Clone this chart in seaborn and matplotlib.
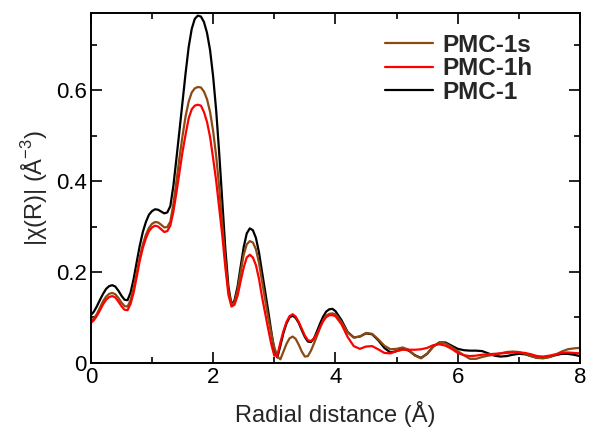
import numpy as np
import pandas as pd
import matplotlib
matplotlib.use("Agg")
import matplotlib.pyplot as plt
import seaborn as sns
from matplotlib.ticker import MultipleLocator

# ----- Data (0.05 A steps up to 4 A, 0.1 A after) -----
r = np.round(np.concatenate([np.arange(0, 4, 0.05), np.arange(4, 8.01, 0.1)]), 2)

pmc1 = [0.105, 0.113, 0.125, 0.139, 0.152, 0.163, 0.169, 0.171, 0.168, 0.159,
        0.148, 0.139, 0.138, 0.155, 0.185, 0.222, 0.258, 0.288, 0.310, 0.326,
        0.334, 0.338, 0.337, 0.333, 0.329, 0.331, 0.345, 0.390, 0.450, 0.512,
        0.575, 0.638, 0.695, 0.735, 0.757, 0.764, 0.762, 0.750, 0.726, 0.688,
        0.630, 0.555, 0.460, 0.355, 0.250, 0.168, 0.128, 0.138, 0.168, 0.212,
        0.255, 0.285, 0.296, 0.292, 0.275, 0.243, 0.200, 0.158, 0.115, 0.070,
        0.028, 0.012, 0.038, 0.066, 0.087, 0.100, 0.104, 0.099, 0.088, 0.072,
        0.057, 0.047, 0.046, 0.054, 0.070, 0.087, 0.102, 0.113, 0.118, 0.119,
        0.114, 0.094, 0.068, 0.056, 0.058, 0.065, 0.063, 0.050, 0.033, 0.023,
        0.026, 0.031, 0.027, 0.017, 0.011, 0.020, 0.036, 0.045, 0.045, 0.038,
        0.031, 0.028, 0.027, 0.027, 0.026, 0.021, 0.016, 0.014, 0.015, 0.018,
        0.020, 0.019, 0.015, 0.011, 0.011, 0.013, 0.017, 0.020, 0.020, 0.018,
        0.015]

pmc1s = [0.091, 0.098, 0.108, 0.122, 0.136, 0.146, 0.152, 0.154, 0.151, 0.143,
         0.133, 0.125, 0.124, 0.138, 0.165, 0.198, 0.233, 0.261, 0.282, 0.297,
         0.306, 0.310, 0.309, 0.304, 0.298, 0.299, 0.311, 0.350, 0.400, 0.452,
         0.500, 0.543, 0.575, 0.595, 0.604, 0.607, 0.606, 0.597, 0.580, 0.552,
         0.510, 0.455, 0.385, 0.305, 0.225, 0.160, 0.127, 0.134, 0.160, 0.200,
         0.238, 0.261, 0.268, 0.265, 0.250, 0.220, 0.180, 0.140, 0.100, 0.065,
         0.035, 0.014, 0.008, 0.025, 0.042, 0.054, 0.058, 0.053, 0.040, 0.025,
         0.014, 0.015, 0.027, 0.043, 0.060, 0.078, 0.094, 0.104, 0.108, 0.109,
         0.107, 0.090, 0.067, 0.056, 0.058, 0.066, 0.064, 0.052, 0.038, 0.030,
         0.031, 0.034, 0.029, 0.016, 0.010, 0.020, 0.036, 0.045, 0.043, 0.035,
         0.026, 0.017, 0.009, 0.009, 0.013, 0.016, 0.018, 0.021, 0.024, 0.025,
         0.024, 0.020, 0.015, 0.011, 0.010, 0.013, 0.018, 0.025, 0.030, 0.032,
         0.033]

pmc1h = [0.088, 0.094, 0.104, 0.116, 0.129, 0.139, 0.145, 0.147, 0.144, 0.135,
         0.125, 0.117, 0.116, 0.130, 0.155, 0.189, 0.225, 0.253, 0.274, 0.290,
         0.298, 0.302, 0.300, 0.294, 0.288, 0.290, 0.302, 0.333, 0.375, 0.420,
         0.465, 0.503, 0.538, 0.558, 0.566, 0.568, 0.566, 0.552, 0.530, 0.497,
         0.450, 0.400, 0.340, 0.280, 0.210, 0.150, 0.124, 0.128, 0.148, 0.180,
         0.210, 0.232, 0.238, 0.232, 0.215, 0.185, 0.145, 0.110, 0.075, 0.042,
         0.016, 0.016, 0.045, 0.070, 0.090, 0.103, 0.107, 0.102, 0.090, 0.075,
         0.060, 0.050, 0.048, 0.054, 0.065, 0.079, 0.092, 0.101, 0.105, 0.105,
         0.103, 0.085, 0.057, 0.037, 0.031, 0.036, 0.037, 0.030, 0.022, 0.021,
         0.026, 0.029, 0.029, 0.029, 0.030, 0.033, 0.039, 0.041, 0.038, 0.031,
         0.022, 0.017, 0.015, 0.016, 0.018, 0.019, 0.020, 0.021, 0.022, 0.023,
         0.023, 0.022, 0.019, 0.015, 0.014, 0.016, 0.019, 0.022, 0.023, 0.022,
         0.021]

samples = ["PMC-1", "PMC-1s", "PMC-1h"]   # drawing order
legend_order = ["PMC-1s", "PMC-1h", "PMC-1"]
colors = {"PMC-1": "#000000", "PMC-1s": "#8B4A12", "PMC-1h": "#FF0000"}

df = pd.DataFrame({
    "R": np.concatenate([r, r, r]),
    "chi": pmc1 + pmc1s + pmc1h,
    "sample": np.repeat(samples, len(r)),
})

# ----- Plot -----
sns.set_style("ticks")
plt.rcParams["font.family"] = ["Liberation Sans", "DejaVu Sans"]
plt.rcParams["mathtext.fontset"] = "custom"
plt.rcParams["mathtext.rm"] = "Liberation Sans"

fig = plt.figure(figsize=(5.9, 4.3), dpi=100)
ax = fig.add_axes([0.154, 0.156, 0.829, 0.814])

sns.lineplot(data=df, x="R", y="chi", hue="sample", hue_order=samples,
             palette=colors, linewidth=1.6, ax=ax)

ax.set_xlim(0, 8)
ax.set_ylim(0, 0.77)
ax.xaxis.set_minor_locator(MultipleLocator(1))
ax.yaxis.set_minor_locator(MultipleLocator(0.1))
ax.set_yticks([0, 0.2, 0.4, 0.6])
ax.set_yticklabels(["0", "0.2", "0.4", "0.6"])
ax.set_xticks([0, 2, 4, 6, 8])
ax.set_xticklabels(["0", "2", "4", "6", "8"])

ax.tick_params(which="both", direction="in", top=True, right=True,
               labelsize=16, width=1.2, colors="black", pad=3)
ax.tick_params(which="major", length=8)
ax.tick_params(which="minor", length=4)
for s in ax.spines.values():
    s.set_linewidth(1.4)
    s.set_color("black")

ax.set_xlabel("Radial distance (Å)", fontsize=17, labelpad=9)
ax.set_ylabel("|χ(R)| (Å$^{-3}$)", fontsize=17, labelpad=4)

handles, labels = ax.get_legend_handles_labels()
lookup = dict(zip(labels, handles))
ax.legend([lookup[k] for k in legend_order], legend_order,
          loc="upper left", bbox_to_anchor=(0.601, 0.94), frameon=False,
          prop={"weight": "bold", "size": 17.5}, handlelength=2.0,
          handletextpad=0.37, labelspacing=0.02, borderpad=0,
          borderaxespad=0)

fig.savefig("out.png", dpi=100)
